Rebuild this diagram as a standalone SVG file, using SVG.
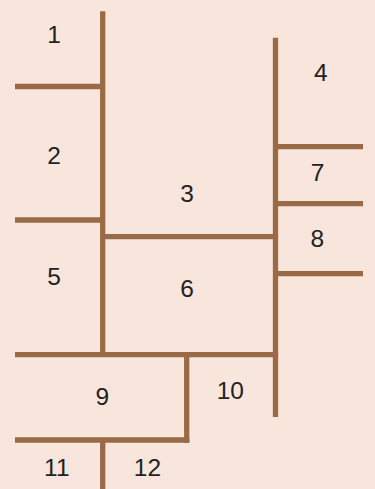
<svg xmlns="http://www.w3.org/2000/svg" width="375" height="489" viewBox="0 0 375 489">
<style>
.w{stroke:#9A6A47;stroke-width:5.3;fill:none;stroke-linecap:butt}
.t{font-family:"Liberation Sans",Arial,sans-serif;font-size:24.5px;fill:#222;text-anchor:middle}
</style>
<rect width="375" height="489" fill="#F8E6DC"/>
<g id="walls">
<line class="w" x1="102.7" y1="11.3" x2="102.7" y2="357"/>
<line class="w" x1="15" y1="86.5" x2="102.7" y2="86.5"/>
<line class="w" x1="15" y1="220" x2="102.7" y2="220"/>
<line class="w" x1="102.7" y1="236.6" x2="275.5" y2="236.6"/>
<line class="w" x1="275.5" y1="37.7" x2="275.5" y2="417"/>
<line class="w" x1="273" y1="146.6" x2="363" y2="146.6"/>
<line class="w" x1="273" y1="203.6" x2="363" y2="203.6"/>
<line class="w" x1="273" y1="273.6" x2="363" y2="273.6"/>
<line class="w" x1="15" y1="354.6" x2="278.1" y2="354.6"/>
<line class="w" x1="186.7" y1="354.6" x2="186.7" y2="442.7"/>
<line class="w" x1="15" y1="440" x2="189.3" y2="440"/>
<line class="w" x1="102.7" y1="440" x2="102.7" y2="489"/>
</g>
<g id="labels">
<text class="t" x="54" y="43.3">1</text>
<text class="t" x="54" y="163.7">2</text>
<text class="t" x="187" y="202.3">3</text>
<text class="t" x="320.7" y="80.7">4</text>
<text class="t" x="54" y="285">5</text>
<text class="t" x="187" y="296.5">6</text>
<text class="t" x="317.6" y="180.7">7</text>
<text class="t" x="317.4" y="247.2">8</text>
<text class="t" x="102.3" y="404.6">9</text>
<text class="t" x="230.3" y="398.7">10</text>
<text class="t" x="56.8" y="475.8">11</text>
<text class="t" x="147.5" y="475.8">12</text>
</g>
</svg>
